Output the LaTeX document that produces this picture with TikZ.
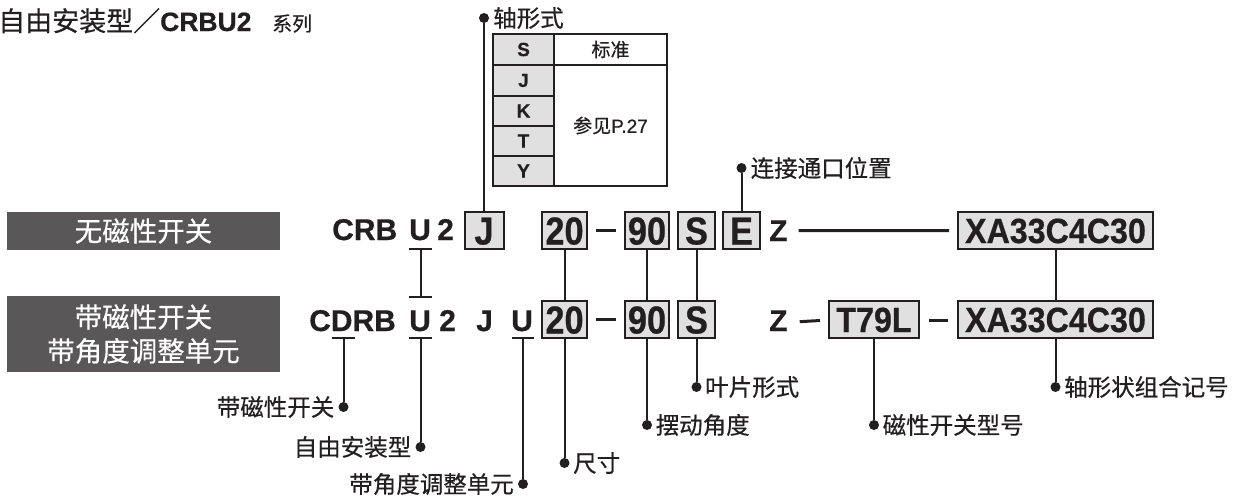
\documentclass[tikz,border=0pt]{standalone}
\usepackage{fontspec}
\setmainfont{Liberation Sans}[FakeBold=0.6]
\newfontfamily\cjk{Noto Sans CJK SC}[FakeBold=0.5]
\newfontfamily\condfont{Liberation Sans}[FakeStretch=0.88, FakeBold=0.6]
\newfontfamily\condfontb{Liberation Sans}[FakeStretch=0.92, FakeBold=0.6]
\definecolor{ink}{HTML}{231F20}
\definecolor{boxgray}{HTML}{E0E0E0}
\definecolor{darkfill}{HTML}{595757}
\begin{document}
\begin{tikzpicture}[x=1pt,y=-1pt,
  box/.style={draw=ink, line width=2pt, fill=boxgray, inner sep=0pt, text=ink,
    minimum height=37pt, text height=28pt, text depth=0pt,
    font=\condfont\bfseries\fontsize{39}{39}\selectfont},
  widebox/.style={box, text height=25pt,
    font=\condfontb\bfseries\fontsize{35}{35}\selectfont},
  code/.style={inner sep=0pt, anchor=base west, text=ink,
    font=\bfseries\fontsize{30}{30}\selectfont},
  lab/.style={inner sep=0pt, text=ink, font=\cjk\fontsize{23.5}{23.5}\selectfont},
  conn/.style={draw=ink, line width=2pt},
  dashline/.style={draw=ink, line width=3pt},
  dot/.style={circle, fill=ink, inner sep=0pt, minimum size=10pt},
  darkbox/.style={fill=darkfill, text=white, inner sep=0pt, align=center,
    minimum width=273pt, font=\cjk\fontsize{27.5}{34}\selectfont},
  tabkey/.style={inner sep=0pt, text=ink, font=\bfseries\fontsize{19}{19}\selectfont},
  tabtxt/.style={inner sep=0pt, text=ink, font=\fontsize{19}{19}\selectfont},
]
\useasboundingbox (0,0) rectangle (1237,496);

% ---- title
\node[inner sep=0pt, anchor=base west, text=ink, font=\cjk\fontsize{27}{27}\selectfont] (title1) at (-2,31) {自由安装型／};
\node[inner sep=0pt, anchor=base west, text=ink, font=\bfseries\fontsize{26.5}{26.5}\selectfont] (title2) at (160,31) {CRBU2};
\node[inner sep=0pt, anchor=base west, text=ink, font=\cjk\fontsize{20}{20}\selectfont] (title3) at (272,31) {系列};

% ---- table of shaft types
\fill[boxgray] (493,34) rectangle (554,186);
\draw[ink, line width=1.5pt] (493,65) -- (667,65);
\draw[ink, line width=1.5pt] (493,96) -- (554,96);
\draw[ink, line width=1.5pt] (493,126) -- (554,126);
\draw[ink, line width=1.5pt] (493,156) -- (554,156);
\draw[ink, line width=1.5pt] (554,34) -- (554,186);
\draw[ink, line width=2pt] (493,34) rectangle (667,186);
\node[tabkey] (kS) at (523.5,49.5) {S};
\node[tabkey] (kJ) at (523.5,80.5) {J};
\node[tabkey] (kK) at (523.5,111) {K};
\node[tabkey] (kT) at (523.5,141) {T};
\node[tabkey] (kY) at (523.5,171) {Y};
\node[tabtxt] (std) at (610.5,49.5) {\cjk 标准};
\node[tabtxt] (ref) at (610.5,125.5) {{\cjk 参见}P.27};

% ---- left dark boxes
\node[darkbox, minimum height=38pt] (nosw) at (143.5,231) {无磁性开关};
\node[darkbox, minimum height=76pt] (withsw) at (143.5,334) {带磁性开关\\带角度调整单元};

% ---- row 1 code
\node[code] (crb) at (332,240) {CRB};
\node[code] (u1) at (409,240) {U};
\node[code] (two1) at (437,240) {2};
\node[box, minimum width=39pt] (j1) at (484,230.5) {J};
\node[box, minimum width=45pt] (s20a) at (564.5,230.5) {20};
\node[box, minimum width=44pt] (a90a) at (647,230.5) {90};
\node[box, minimum width=37pt] (vsa) at (696.5,230.5) {S};
\node[box, minimum width=37pt] (ea) at (741.5,230.5) {E};
\node[code] (z1) at (769,241) {Z};
\node[widebox, minimum width=195pt] (xaa) at (1055.5,230.5) {XA33C4C30};

% ---- row 2 code
\node[code] (cdrb) at (309,331) {CDRB};
\node[code] (u2) at (409,331) {U};
\node[code] (two2) at (439,331) {2};
\node[code] (j2) at (476,331) {J};
\node[code] (u3) at (511,331) {U};
\node[box, minimum width=45pt] (s20b) at (564.5,319.5) {20};
\node[box, minimum width=44pt] (a90b) at (647,319.5) {90};
\node[box, minimum width=37pt] (vsb) at (696.5,319.5) {S};
\node[code] (z2) at (769,331) {Z};
\node[widebox, minimum width=90pt] (t79) at (874,319.5) {T79L};
\node[widebox, minimum width=195pt] (xab) at (1055.5,319.5) {XA33C4C30};

% ---- dashes
\draw[dashline] ([xshift=8pt]s20a.east) -- ([xshift=-8pt]a90a.west);
\draw[dashline] ([xshift=11pt]z1.east) -- ([xshift=-8pt]xaa.west);
\draw[dashline] ([xshift=8pt]s20b.east) -- ([xshift=-8pt]a90b.west);
\draw[dashline] ([xshift=12pt,yshift=-1pt]z2.east) -- ([xshift=-8pt,yshift=-1pt]t79.west);
\draw[dashline] ([xshift=9pt,yshift=-1pt]t79.east) -- ([xshift=-9pt,yshift=-1pt]xab.west);

% ---- vertical links between rows
\draw[conn] (s20a) -- (s20b);
\draw[conn] (a90a) -- (a90b);
\draw[conn] (vsa) -- (vsb);
\draw[conn] (xaa) -- (xab);
\coordinate (ibeamtop) at (420.5,249);
\coordinate (ibeambot) at (420.5,297);
\draw[conn] ([xshift=-11.5pt]ibeamtop) -- ([xshift=11.5pt]ibeamtop);
\draw[conn] ([xshift=-11.5pt]ibeambot) -- ([xshift=11.5pt]ibeambot);
\draw[conn] (ibeamtop) -- (ibeambot);

% ---- upper labels
\node[dot] (dshaft) at (484,18) {};
\node[lab, anchor=west] (lshaft) at (493,18) {轴形式};
\draw[conn] (dshaft) -- (j1);
\node[dot] (dport) at (741.5,168) {};
\node[lab, anchor=west] (lport) at (750.5,168) {连接通口位置};
\draw[conn] (dport) -- (ea);

% ---- lower labels: underlined letters
\coordinate (ubD) at (343.5,338);
\coordinate (ubU) at (420.5,338);
\coordinate (ubU2) at (523,338);
\draw[conn] ([xshift=-11.5pt]ubD) -- ([xshift=11.5pt]ubD);
\draw[conn] ([xshift=-11.5pt]ubU) -- ([xshift=11.5pt]ubU);
\draw[conn] ([xshift=-11pt]ubU2) -- ([xshift=11pt]ubU2);
\node[dot] (dsw) at (343.5,407) {};
\node[lab, anchor=east] (lsw) at (334.5,407) {带磁性开关};
\draw[conn] (ubD) -- (dsw);
\node[dot] (dfree) at (420.5,447) {};
\node[lab, anchor=east] (lfree) at (411.5,447) {自由安装型};
\draw[conn] (ubU) -- (dfree);
\node[dot] (dangle) at (523,484) {};
\node[lab, anchor=east] (langle) at (514,484) {带角度调整单元};
\draw[conn] (ubU2) -- (dangle);

% ---- lower labels: boxes
\node[dot] (dsize) at (564.5,463) {};
\node[lab, anchor=west] (lsize) at (573,463) {尺寸};
\draw[conn] (s20b) -- (dsize);
\node[dot] (drot) at (647,425) {};
\node[lab, anchor=west] (lrot) at (655.5,425) {摆动角度};
\draw[conn] (a90b) -- (drot);
\node[dot] (dvane) at (696.5,387) {};
\node[lab, anchor=west] (lvane) at (705,387) {叶片形式};
\draw[conn] (vsb) -- (dvane);
\node[dot] (dswm) at (874,425) {};
\node[lab, anchor=west] (lswm) at (882.5,425) {磁性开关型号};
\draw[conn] (t79) -- (dswm);
\node[dot] (dcomb) at (1055.5,387) {};
\node[lab, anchor=west] (lcomb) at (1064,387) {轴形状组合记号};
\draw[conn] (xab) -- (dcomb);
\end{tikzpicture}
\end{document}
